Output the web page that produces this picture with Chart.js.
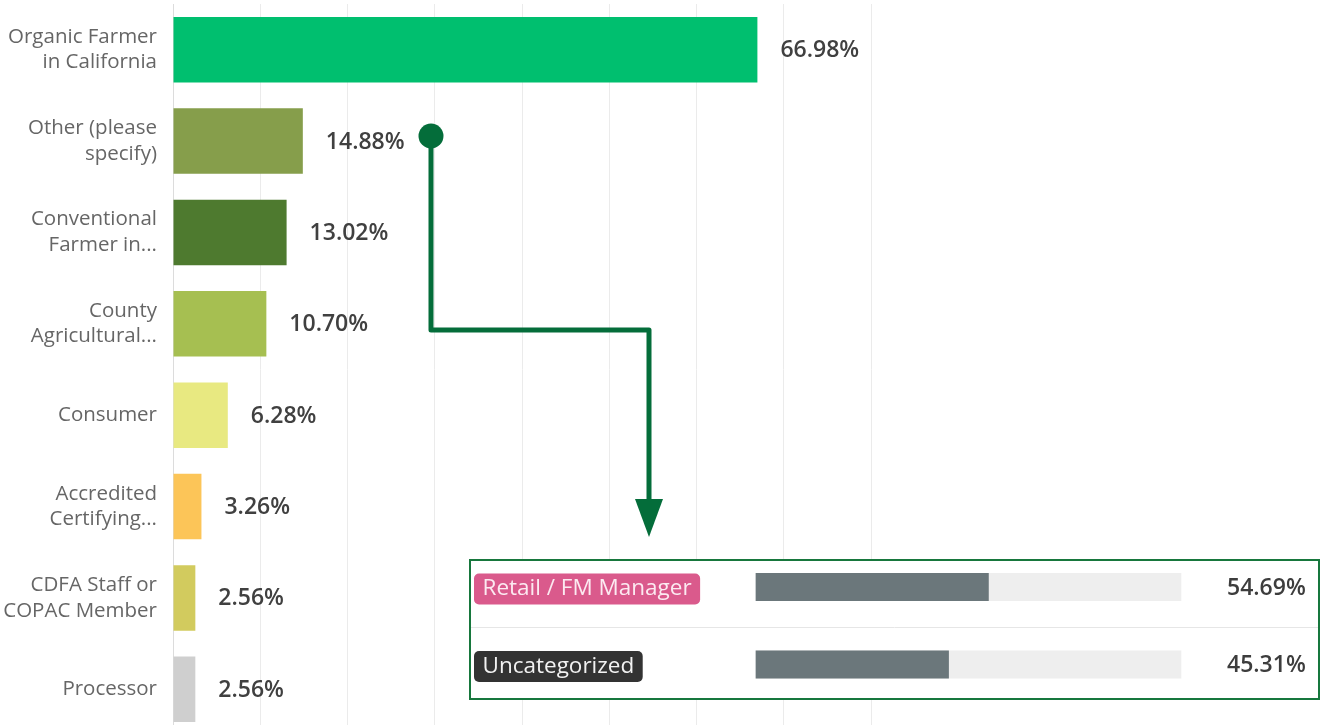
<!DOCTYPE html>
<html><head><meta charset="utf-8">
<script src="https://cdn.jsdelivr.net/npm/chart.js@4"></script>
<style>
html,body{margin:0;padding:0;background:#fff;overflow:hidden;width:1321px;height:725px;}
#c1{position:absolute;left:0;top:0;}
#inset{position:absolute;left:469px;top:559px;width:847px;height:137px;border:2px solid #17773d;background:#fff;}
#c2{position:absolute;left:0;top:0;}
</style></head><body>
<canvas id="c1" width="1321" height="740"></canvas>
<div id="inset"><canvas id="c2" width="847" height="137"></canvas></div>
<script>
const categories = [
  ["Organic Farmer", "in California"],
  ["Other (please", "specify)"],
  ["Conventional", "Farmer in..."],
  ["County", "Agricultural..."],
  ["Consumer"],
  ["Accredited", "Certifying..."],
  ["CDFA Staff or", "COPAC Member"],
  ["Processor"]
];
const percentages = [66.98, 14.88, 13.02, 10.70, 6.28, 3.26, 2.56, 2.56];
const barColors = ["#00BF6F", "#869E4B", "#4E7A2F", "#A6BF51", "#E8E981", "#FCC558", "#D2CB5E", "#CFCFCF"];

const subCategories = ["Retail / FM Manager", "Uncategorized"];
const subPercentages = [54.69, 45.31];
const subTrack = [100, 100];
const subTagColors = ["#DA5A8C", "#333333"];
const subTagText = ["#FCEAF1", "#F2F2F2"];

const FONT = '"Open Sans", "Noto Sans", sans-serif';

const valueLabels = {
  id: 'valueLabels',
  afterDatasetsDraw(chart) {
    const ctx = chart.ctx;
    const meta = chart.getDatasetMeta(0);
    ctx.save();
    ctx.font = '600 23px ' + FONT;
    ctx.fillStyle = '#404040';
    ctx.textBaseline = 'middle';
    ctx.textAlign = 'left';
    meta.data.forEach((bar, i) => {
      ctx.fillText(percentages[i].toFixed(2) + '%', bar.x + 23, bar.y + 1);
    });
    ctx.restore();
  }
};

const arrow = {
  id: 'arrow',
  afterDraw(chart) {
    const ctx = chart.ctx;
    const sx = 431, sy = 136, cy = 330, cx = 649, tipY = 537;
    ctx.save();
    ctx.strokeStyle = '#046D3A';
    ctx.fillStyle = '#046D3A';
    ctx.lineWidth = 5;
    ctx.lineJoin = 'round';
    ctx.beginPath();
    ctx.moveTo(sx, sy);
    ctx.lineTo(sx, cy);
    ctx.lineTo(cx, cy);
    ctx.lineTo(cx, tipY - 36);
    ctx.stroke();
    ctx.beginPath();
    ctx.moveTo(cx - 14, tipY - 38);
    ctx.lineTo(cx + 14, tipY - 38);
    ctx.lineTo(cx, tipY);
    ctx.closePath();
    ctx.fill();
    ctx.beginPath();
    ctx.arc(sx, sy, 12.5, 0, Math.PI * 2);
    ctx.fill();
    ctx.restore();
  }
};

new Chart(document.getElementById('c1'), {
  type: 'bar',
  data: {
    labels: categories,
    datasets: [{
      data: percentages,
      backgroundColor: barColors,
      borderWidth: 0,
      categoryPercentage: 1,
      barPercentage: 0.718
    }]
  },
  options: {
    indexAxis: 'y',
    responsive: false,
    animation: false,
    layout: { autoPadding: false, padding: { top: 4, bottom: 5, left: 0, right: 450 } },
    plugins: { legend: { display: false }, tooltip: { enabled: false } },
    scales: {
      x: {
        min: 0, max: 80,
        ticks: { display: false, stepSize: 10 },
        grid: { color: '#EBEBEB', drawTicks: false, lineWidth: 1 },
        border: { display: false },
        afterFit(s) { s.height = 0; s.paddingLeft = 0; s.paddingRight = 0; s.paddingTop = 0; s.paddingBottom = 0; }
      },
      y: {
        ticks: { color: '#666666', font: { family: FONT, size: 20.5, lineHeight: 1.25 }, padding: 16 },
        grid: { display: false, drawTicks: false },
        border: { display: true, color: '#DCDCDC' },
        afterFit(s) { s.width = 173; s.paddingTop = 0; s.paddingBottom = 0; s.paddingLeft = 0; s.paddingRight = 0; }
      }
    }
  },
  plugins: [valueLabels, arrow]
});

const insetDecor = {
  id: 'insetDecor',
  beforeDatasetsDraw(chart) {
    const ctx = chart.ctx;
    const m = chart.getDatasetMeta(0).data;
    const midY = Math.round((m[0].y + m[1].y) / 2) + 1.5;
    ctx.save();
    ctx.strokeStyle = '#E6E6E6';
    ctx.lineWidth = 1;
    ctx.beginPath();
    ctx.moveTo(0, midY);
    ctx.lineTo(chart.width, midY);
    ctx.stroke();
    ctx.restore();
  },
  afterDatasetsDraw(chart) {
    const ctx = chart.ctx;
    const m = chart.getDatasetMeta(0).data;
    ctx.save();
    m.forEach((bar, i) => {
      ctx.font = '22.5px ' + FONT;
      const tw = ctx.measureText(subCategories[i]).width;
      const x = 3, h = 31, y = bar.y + 2 - h / 2, w = tw + 17;
      ctx.fillStyle = subTagColors[i];
      ctx.beginPath();
      ctx.roundRect(x, y, w, h, 5);
      ctx.fill();
      ctx.fillStyle = subTagText[i];
      ctx.textBaseline = 'middle';
      ctx.textAlign = 'left';
      ctx.fillText(subCategories[i], x + 8.5, bar.y + 2);
      ctx.font = '600 23px ' + FONT;
      ctx.fillStyle = '#3D3D3D';
      ctx.fillText(subPercentages[i].toFixed(2) + '%', chart.chartArea.right + 46, bar.y + 1);
    });
    ctx.restore();
  }
};

new Chart(document.getElementById('c2'), {
  type: 'bar',
  data: {
    labels: subCategories,
    datasets: [
      { data: subPercentages, backgroundColor: '#6B777B', grouped: false, barThickness: 27.5, order: 0, clip: false, borderWidth: 0 },
      { data: subTrack, backgroundColor: '#EEEEEE', grouped: false, barThickness: 27.5, order: 1, clip: false, borderWidth: 0 }
    ]
  },
  options: {
    indexAxis: 'y',
    responsive: false,
    animation: false,
    layout: { autoPadding: false, padding: { top: 26, bottom: 33.5, left: 285, right: 137 } },
    plugins: { legend: { display: false }, tooltip: { enabled: false } },
    scales: {
      x: { display: false, min: 0, max: 100 },
      y: { display: false, offset: false }
    }
  },
  plugins: [insetDecor]
});
</script>
</body></html>
